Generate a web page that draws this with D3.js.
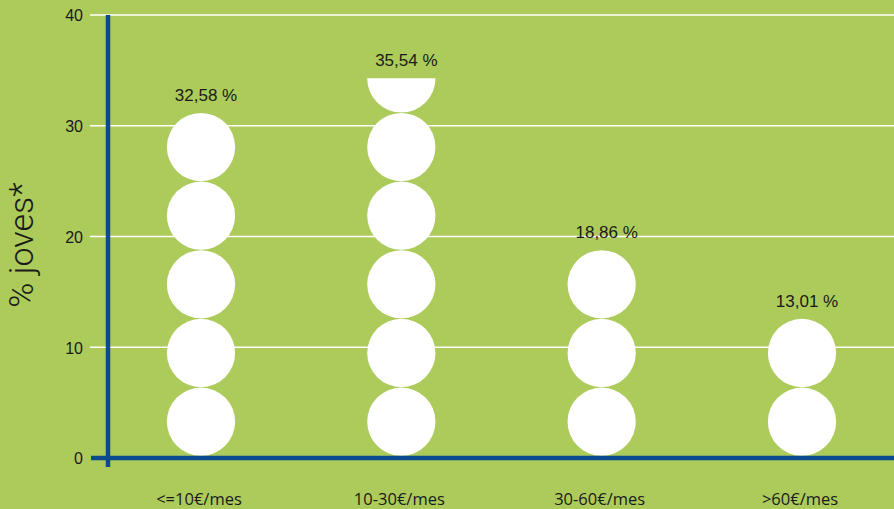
<!DOCTYPE html>
<html>
<head>
<meta charset="utf-8">
<script src="https://cdn.jsdelivr.net/npm/d3@7"></script>
<style>
  html, body { margin: 0; padding: 0; background: #adcb5b; }
  svg { display: block; }
</style>
</head>
<body>
<svg id="chart" width="894" height="509"></svg>
<script>
// ---- data ----
const categories = ["<=10€/mes", "10-30€/mes", "30-60€/mes", ">60€/mes"];
const values = [32.58, 35.54, 18.86, 13.01];
const valueLabels = ["32,58 %", "35,54 %", "18,86 %", "13,01 %"];
const icons = [5, 5.5, 3, 2];          // circles shown per column
const yTicks = [0, 10, 20, 30, 40];
const yTitle = "% joves*";

// ---- layout / style ----
const W = 894, H = 509;
const bg = "#adcb5b", axisBlue = "#0b4a8c", ink = "#1a1a1a";
const iconSpan = 6.2;   // one circle's height in axis units (pictograph)

const svg = d3.select("#chart");
svg.append("rect").attr("width", W).attr("height", H).attr("fill", bg);

const y = d3.scaleLinear().domain([0, 40]).range([458, 15]);
const x = d3.scalePoint().domain(categories).range([201, 802]);

// gridlines
svg.append("g").selectAll("line").data(yTicks.filter(d => d > 0)).join("line")
  .attr("x1", 90).attr("x2", W)
  .attr("y1", d => y(d)).attr("y2", d => y(d))
  .attr("stroke", "#ffffff").attr("stroke-width", 1.5);

// y axis tick labels
const yAxis = d3.axisLeft(y).tickValues(yTicks).tickSize(0).tickPadding(0);
const gy = svg.append("g").attr("transform", "translate(83,0)").call(yAxis)
  .attr("font-size", 16).attr("font-family", "Liberation Sans, Arial, sans-serif");
gy.select(".domain").remove();
gy.selectAll("text")
  .attr("font-family", "Liberation Sans, Arial, sans-serif")
  .attr("font-size", 16).attr("fill", ink).attr("dy", "0.36em");

// y title
svg.append("text")
  .attr("transform", `translate(33,${245}) rotate(-90)`)
  .attr("text-anchor", "middle")
  .attr("font-family", "Roboto, Liberation Sans, sans-serif")
  .attr("font-weight", 300)
  .attr("font-size", 34).attr("fill", ink)
  .text(yTitle);

// pictograph circles
const base = y(0) - 2;
const pitch = y(0) - y(iconSpan);
const r = pitch / 2 - 0.2;
const defs = svg.append("defs");

categories.forEach((c, i) => {
  const n = icons[i];
  const full = Math.floor(n);
  const g = svg.append("g");
  const cells = d3.range(full);
  g.selectAll("circle").data(cells).join("circle")
    .attr("cx", x(c))
    .attr("cy", k => base - pitch * (k + 0.5))
    .attr("r", r)
    .attr("fill", "#ffffff");
  const frac = n - full;
  if (frac > 0) {
    const top = base - pitch * n;
    const cid = "clip" + i;
    defs.append("clipPath").attr("id", cid)
      .append("rect")
      .attr("x", x(c) - r - 2).attr("width", 2 * r + 4)
      .attr("y", top).attr("height", pitch * frac);
    g.append("circle")
      .attr("cx", x(c))
      .attr("cy", base - pitch * (full + 0.5))
      .attr("r", r)
      .attr("fill", "#ffffff")
      .attr("clip-path", `url(#${cid})`);
  }
  // value label
  svg.append("text")
    .attr("x", x(c) + 5)
    .attr("y", base - pitch * n - 12)
    .attr("text-anchor", "middle")
    .attr("font-family", "Liberation Sans, Arial, sans-serif")
    .attr("font-size", 17).attr("fill", ink)
    .text(valueLabels[i]);
});

// axes lines
svg.append("line")
  .attr("x1", 108).attr("x2", 108)
  .attr("y1", y(40)).attr("y2", y(0) + 9)
  .attr("stroke", axisBlue).attr("stroke-width", 4.5);
svg.append("line")
  .attr("x1", 91).attr("x2", W)
  .attr("y1", y(0)).attr("y2", y(0))
  .attr("stroke", axisBlue).attr("stroke-width", 4.5);

// x labels
svg.append("g").selectAll("text").data(categories).join("text")
  .attr("x", d => x(d) - 2)
  .attr("y", 505)
  .attr("text-anchor", "middle")
  .attr("font-family", "Open Sans, sans-serif")
  .attr("font-size", 16.5).attr("fill", ink)
  .text(d => d);
</script>
</body>
</html>
